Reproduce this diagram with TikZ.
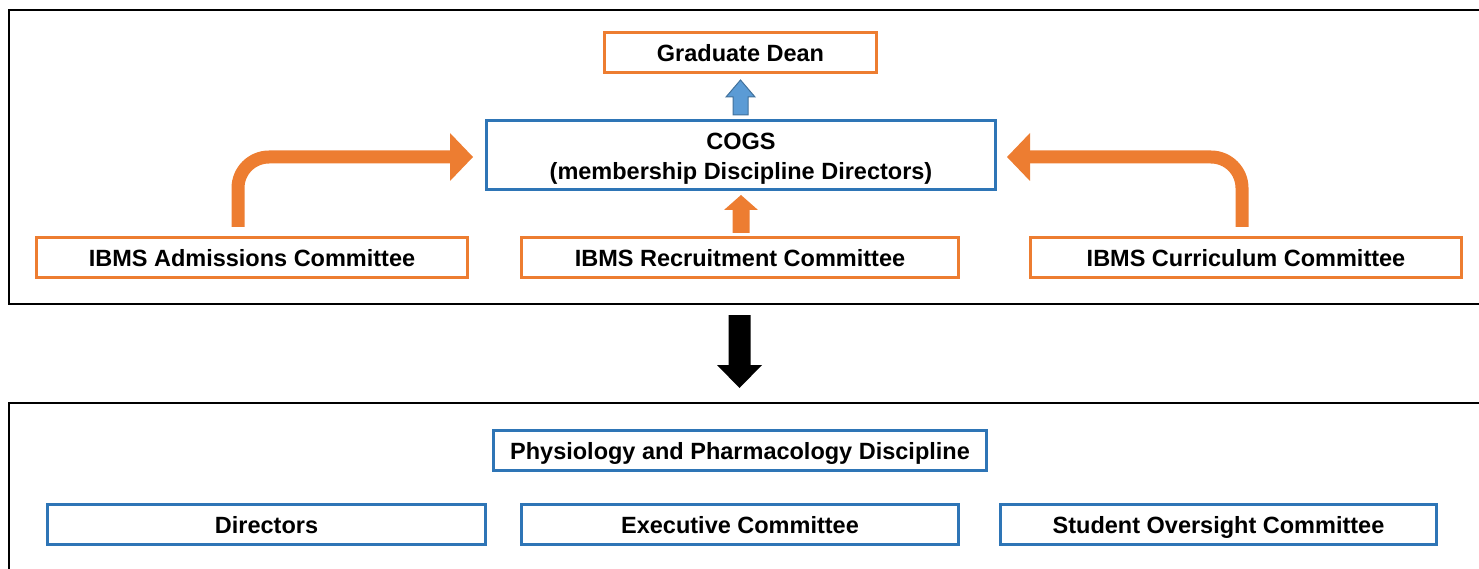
\documentclass[tikz,border=0pt]{standalone}
\usepackage{fontspec}
\setmainfont{Liberation Sans}
\usetikzlibrary{calc}
\definecolor{borange}{HTML}{ED7D31}
\definecolor{bblue}{HTML}{2E75B6}
\definecolor{afill}{HTML}{5B9BD5}
\definecolor{aedge}{HTML}{41719C}
\begin{document}
\begin{tikzpicture}[x=1pt,y=-1pt,
  basebox/.style={draw, line width=3.5pt, fill=white, inner sep=0pt,
    font=\fontsize{23.5}{30}\selectfont\bfseries, text=black},
  box/.style={basebox, minimum height=40pt, text height=18pt, text depth=0pt},
  obox/.style={box, draw=borange},
  bbox/.style={box, draw=bblue},
  frame/.style={draw=black, line width=2pt},
  oarrow/.style={draw=borange, line width=13pt},
  ohead/.style={fill=borange},
]
\useasboundingbox (0,0) rectangle (1479,569);
\clip (0,0) rectangle (1479,569);
% frames
\draw[frame] (9,10) rectangle (1495,304);
\draw[frame] (9,403) rectangle (1495,590);
% top nodes
\node[obox, minimum width=272pt] (dean) at (740.5,52.5) {Graduate Dean};
\node[basebox, draw=bblue, align=center, minimum width=509pt, minimum height=69pt] (cogs) at (741,155)
  {\rule{0pt}{23.5pt}COGS\\(membership Discipline Directors)};
\node[obox, minimum width=431pt] (adm) at (252,257.5) {IBMS Admissions Committee};
\node[obox, minimum width=437pt] (rec) at (740,257.5) {IBMS Recruitment Committee};
\node[obox, minimum width=431pt] (cur) at (1246,257.5) {IBMS Curriculum Committee};
% bottom nodes
\node[bbox, minimum width=493pt] (phys) at (740,450.5) {Physiology and Pharmacology Discipline};
\node[bbox, minimum width=438pt] (dir) at (266.5,524.5) {Directors};
\node[bbox, minimum width=437pt] (exe) at (740,524.5) {Executive Committee};
\node[bbox, minimum width=436pt] (sto) at (1218.5,524.5) {Student Oversight Committee};
% blue up arrow COGS -> Dean
\coordinate (ba) at (740.5,115);
\coordinate (bt) at (740.5,80);
\filldraw[fill=afill, draw=aedge, line width=1pt]
  ($(ba)+(-7.5,0)$) -- ($(ba)+(7.5,0)$) -- ($(bt)+(7.5,17)$) -- ($(bt)+(14.5,17)$)
  -- (bt) -- ($(bt)+(-14.5,17)$) -- ($(bt)+(-7.5,17)$) -- cycle;
% orange up arrow Recruitment -> COGS
\coordinate (ra) at (741,233);
\coordinate (rt) at (741,195);
\fill[ohead]
  ($(ra)+(-8.5,0)$) -- ($(ra)+(8.5,0)$) -- ($(rt)+(8.5,15)$) -- ($(rt)+(17,15)$)
  -- (rt) -- ($(rt)+(-17,15)$) -- ($(rt)+(-8.5,15)$) -- cycle;
% curved arrow Admissions -> COGS
\coordinate (la) at (238,227);
\coordinate (lb) at (452,157);
\coordinate (lt) at (473,157);
\draw[oarrow, rounded corners=31pt] (la) |- (lb);
\fill[ohead] ($(lb)+(-2,-24)$) -- (lt) -- ($(lb)+(-2,24)$) -- cycle;
% curved arrow Curriculum -> COGS
\coordinate (qa) at (1242,227);
\coordinate (qb) at (1028,157);
\coordinate (qt) at (1007,157);
\draw[oarrow, rounded corners=31pt] (qa) |- (qb);
\fill[ohead] ($(qb)+(2,-24)$) -- (qt) -- ($(qb)+(2,24)$) -- cycle;
% black down arrow between frames
\coordinate (ka) at (739.5,315);
\coordinate (kt) at (739.5,388);
\fill[black]
  ($(ka)+(-11,0)$) -- ($(ka)+(11,0)$) -- ($(kt)+(11,-23)$) -- ($(kt)+(22.5,-23)$)
  -- (kt) -- ($(kt)+(-22.5,-23)$) -- ($(kt)+(-11,-23)$) -- cycle;
\end{tikzpicture}
\end{document}
